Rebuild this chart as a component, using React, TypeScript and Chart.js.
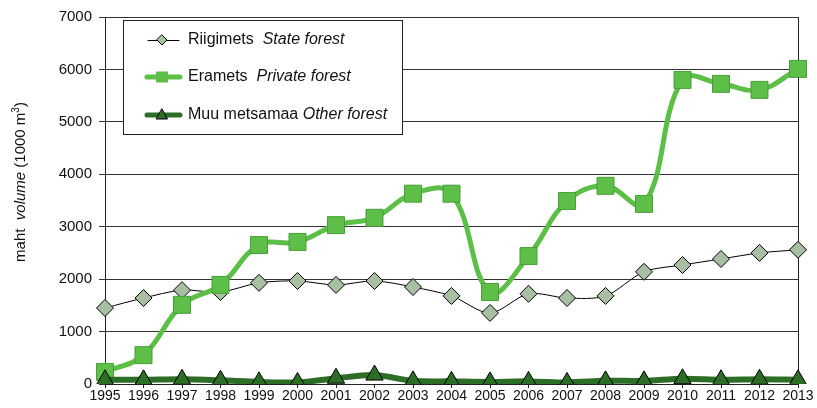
import React, { useEffect, useRef } from 'react';
import { Chart, registerables } from 'chart.js';

Chart.register(...registerables);

const years = ['1995','1996','1997','1998','1999','2000','2001','2002','2003','2004','2005','2006','2007','2008','2009','2010','2011','2012','2013'];
const stateForest = [1450,1640,1790,1755,1930,1965,1890,1965,1850,1680,1355,1720,1640,1680,2140,2270,2385,2500,2560];
const privateForest = [230,550,1510,1890,2650,2710,3030,3170,3630,3630,1755,2440,3490,3780,3435,5800,5725,5610,6010];
const otherForest = [80,80,90,70,40,30,110,170,60,50,40,50,30,60,60,100,80,90,80];
const yTicks = [0,1000,2000,3000,4000,5000,6000,7000];

const STATE_FILL = '#a8bfa3';
const PRIVATE_COLOR = '#5dbf48';
const OTHER_COLOR = '#2d6e27';
const FONT = '"Liberation Sans", Arial, sans-serif';

const overlayPlugin = {
  id: 'overlay',
  beforeDatasetsDraw(chart: any) {
    const { ctx, chartArea } = chart;
    ctx.save();
    ctx.strokeStyle = '#222';
    ctx.lineWidth = 1;
    ctx.beginPath();
    ctx.moveTo(Math.round(chartArea.right) + 0.5, chartArea.top);
    ctx.lineTo(Math.round(chartArea.right) + 0.5, chartArea.bottom);
    ctx.stroke();
    ctx.restore();
  },
  afterDatasetsDraw(chart: any) {
    const { ctx } = chart;
    ctx.save();
    // legend box
    const bx = 123.5, by = 20.5, bw = 279, bh = 114;
    ctx.fillStyle = '#fff';
    ctx.fillRect(bx, by, bw, bh);
    ctx.strokeStyle = '#222';
    ctx.lineWidth = 1;
    ctx.strokeRect(bx, by, bw, bh);

    const rows = [
      { y: 40, a: 'Riigimets  ', b: 'State forest', kind: 'state' },
      { y: 77, a: 'Eramets  ', b: 'Private forest', kind: 'private' },
      { y: 115, a: 'Muu metsamaa ', b: 'Other forest', kind: 'other' },
    ];
    const x0 = 148, x1 = 179, xm = 162;
    rows.forEach((r) => {
      ctx.lineCap = 'round';
      if (r.kind === 'state') {
        ctx.strokeStyle = '#000';
        ctx.lineWidth = 1;
        ctx.beginPath(); ctx.moveTo(x0, r.y + 0.5); ctx.lineTo(x1, r.y + 0.5); ctx.stroke();
        ctx.fillStyle = STATE_FILL;
        ctx.beginPath();
        ctx.moveTo(xm, r.y - 5); ctx.lineTo(xm + 5, r.y); ctx.lineTo(xm, r.y + 5); ctx.lineTo(xm - 5, r.y); ctx.closePath();
        ctx.fill(); ctx.stroke();
      } else if (r.kind === 'private') {
        ctx.strokeStyle = PRIVATE_COLOR;
        ctx.lineWidth = 5;
        ctx.beginPath(); ctx.moveTo(x0 - 1, r.y); ctx.lineTo(x1 + 1, r.y); ctx.stroke();
        ctx.fillStyle = PRIVATE_COLOR;
        ctx.fillRect(xm - 6, r.y - 5.5, 12, 11);
      } else {
        ctx.strokeStyle = OTHER_COLOR;
        ctx.lineWidth = 5;
        ctx.beginPath(); ctx.moveTo(x0 - 1, r.y); ctx.lineTo(x1 + 1, r.y); ctx.stroke();
        ctx.fillStyle = OTHER_COLOR;
        ctx.strokeStyle = '#000';
        ctx.lineWidth = 1;
        ctx.beginPath();
        ctx.moveTo(xm, r.y - 6); ctx.lineTo(xm + 5.5, r.y + 4); ctx.lineTo(xm - 5.5, r.y + 4); ctx.closePath();
        ctx.fill(); ctx.stroke();
      }
      ctx.fillStyle = '#111';
      ctx.textBaseline = 'middle';
      ctx.textAlign = 'left';
      ctx.font = `16px ${FONT}`;
      ctx.fillText(r.a, 188, r.y);
      const w = ctx.measureText(r.a).width;
      ctx.font = `italic 16px ${FONT}`;
      ctx.fillText(r.b, 188 + w, r.y);
    });

    // y-axis title
    ctx.translate(21, 182);
    ctx.rotate(-Math.PI / 2);
    ctx.fillStyle = '#111';
    ctx.textBaseline = 'middle';
    const parts: [string, string, number][] = [
      ['maht  ', `15px ${FONT}`, 0],
      ['volume', `italic 15px ${FONT}`, 0],
      [' (1000 m', `15px ${FONT}`, 0],
      ['3', `10px ${FONT}`, -5],
      [')', `15px ${FONT}`, 0],
    ];
    let total = 0;
    parts.forEach(([t, f]) => { ctx.font = f; total += ctx.measureText(t).width; });
    let cx = -total / 2;
    ctx.textAlign = 'left';
    parts.forEach(([t, f, dy]) => {
      ctx.font = f;
      ctx.fillText(t, cx, dy);
      cx += ctx.measureText(t).width;
    });
    ctx.restore();
  },
};

export default function App() {
  const ref = useRef<HTMLCanvasElement | null>(null);
  useEffect(() => {
    if (!ref.current) return;
    const chart = new Chart(ref.current, {
      type: 'line',
      data: {
        labels: years,
        datasets: [
          {
            label: 'Riigimets State forest',
            data: stateForest,
            borderColor: '#000',
            borderWidth: 1,
            backgroundColor: STATE_FILL,
            pointStyle: 'rectRot',
            pointRadius: 8.5,
            pointBorderColor: '#000',
            pointBorderWidth: 1,
            pointBackgroundColor: STATE_FILL,
            tension: 0.3,
            order: 3,
          },
          {
            label: 'Eramets Private forest',
            data: privateForest,
            borderColor: PRIVATE_COLOR,
            borderWidth: 5,
            backgroundColor: PRIVATE_COLOR,
            pointStyle: 'rect',
            pointRadius: 12,
            pointBorderColor: '#4a9e3a',
            pointBorderWidth: 1,
            pointBackgroundColor: PRIVATE_COLOR,
            tension: 0.4,
            order: 2,
          },
          {
            label: 'Muu metsamaa Other forest',
            data: otherForest,
            borderColor: OTHER_COLOR,
            borderWidth: 6,
            backgroundColor: OTHER_COLOR,
            pointStyle: 'triangle',
            pointRadius: 10,
            pointBorderColor: '#000',
            pointBorderWidth: 1,
            pointBackgroundColor: OTHER_COLOR,
            tension: 0.3,
            order: 1,
          },
        ],
      },
      options: {
        animation: false,
        responsive: false,
        maintainAspectRatio: false,
        layout: { padding: { top: 17, right: 19, left: 0, bottom: 0 } },
        plugins: {
          legend: { display: false },
          tooltip: { enabled: false },
        },
        scales: {
          x: {
            offset: false,
            grid: { drawOnChartArea: false, drawTicks: true, tickLength: 4, color: '#222' },
            border: { display: true, color: '#222' },
            ticks: { color: '#111', font: { family: FONT, size: 14 }, padding: 0, maxRotation: 0, autoSkip: false },
            afterFit: (s: any) => { s.height = 24; },
          },
          y: {
            min: 0,
            max: 7000,
            afterBuildTicks: (s: any) => { s.ticks = yTicks.map((v) => ({ value: v })); },
            grid: { color: '#333', lineWidth: 1, tickLength: 6 },
            border: { display: true, color: '#222' },
            ticks: { color: '#111', font: { family: FONT, size: 15 }, padding: 7, callback: (v: any) => String(v) },
            afterFit: (s: any) => { s.width = 105; },
          },
        },
      },
      plugins: [overlayPlugin],
    });
    return () => chart.destroy();
  }, []);
  return (
    <div style={{ position: 'fixed', left: 0, top: 0, width: 817, height: 408, background: '#fff' }}>
      <canvas ref={ref} width={817} height={408} style={{ display: 'block' }} />
    </div>
  );
}
